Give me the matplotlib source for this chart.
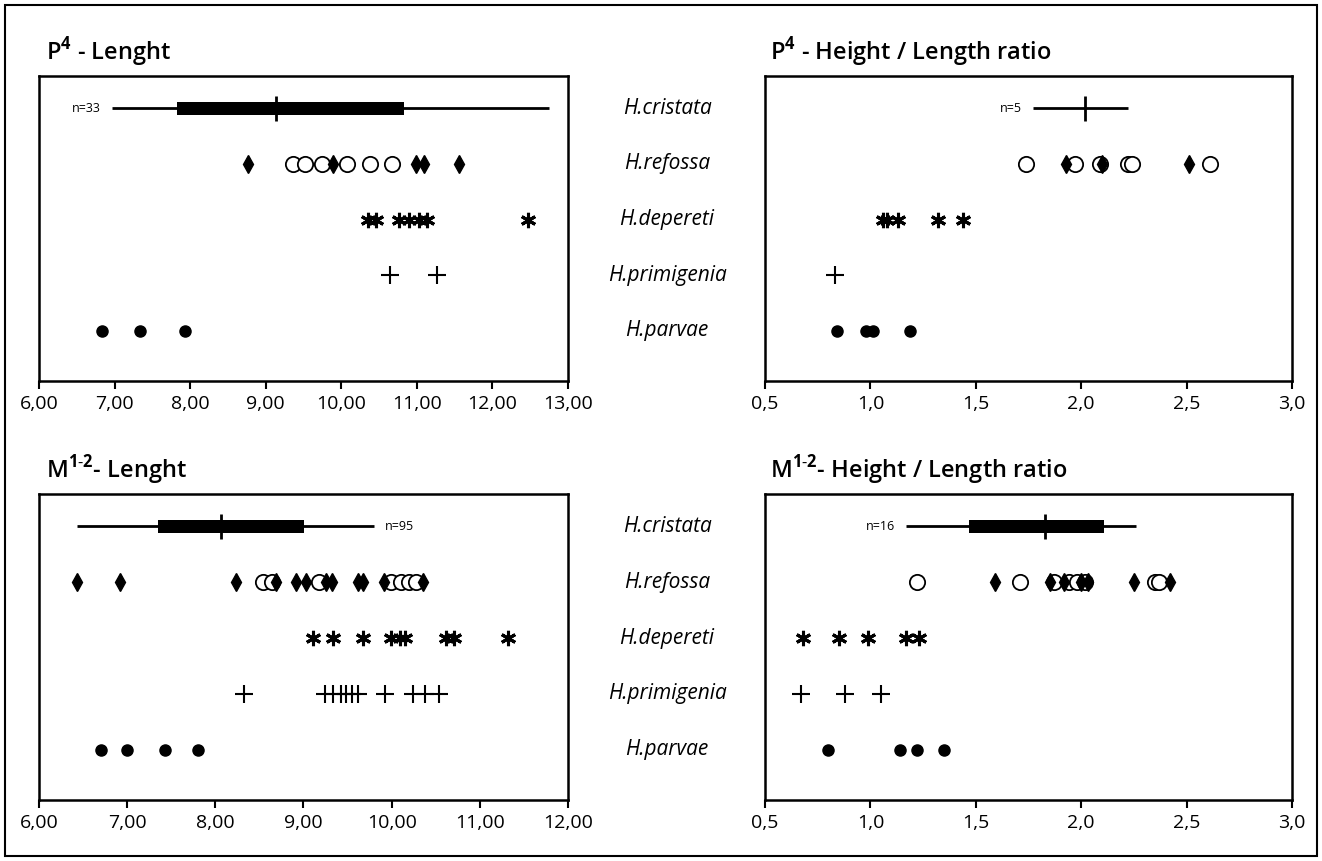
import matplotlib
matplotlib.use("Agg")
import matplotlib.pyplot as plt
import matplotlib.transforms as mtransforms
from matplotlib.patches import Rectangle

plt.rcParams['font.family'] = ['Open Sans', 'DejaVu Sans']
plt.rcParams['mathtext.fontset'] = 'custom'
plt.rcParams['mathtext.rm'] = 'Open Sans'
plt.rcParams['mathtext.bf'] = 'Open Sans:bold'

species = ["H.cristata", "H.refossa", "H.depereti", "H.primigenia", "H.parvae"]

# ---- P4 length ----
p4_len_box = dict(lo=6.97, q1=7.82, med=9.13, q3=10.83, hi=12.75, n="n=33")
p4_len_refossa_circ = [9.36, 9.52, 9.75, 10.08, 10.38, 10.67]
p4_len_refossa_diam = [8.77, 9.89, 10.99, 11.09, 11.56]
p4_len_depereti = [10.35, 10.46, 10.76, 10.89, 11.03, 11.14, 12.47]
p4_len_primigenia = [10.64, 11.26]
p4_len_parvae = [6.84, 7.34, 7.93]

# ---- P4 height / length ----
p4_hl_box = dict(lo=1.77, q1=None, med=2.02, q3=None, hi=2.22, n="n=5")
p4_hl_refossa_circ = [1.74, 1.97, 2.09, 2.22, 2.24, 2.61]
p4_hl_refossa_diam = [1.93, 2.10, 2.51]
p4_hl_depereti = [1.06, 1.08, 1.13, 1.32, 1.44]
p4_hl_primigenia = [0.83]
p4_hl_parvae = [0.84, 0.98, 1.01, 1.19]

# ---- M1-2 length ----
m_len_box = dict(lo=6.43, q1=7.35, med=8.06, q3=9.01, hi=9.80, n="n=95")
m_len_refossa_circ = [8.54, 8.64, 9.18, 9.99, 10.11, 10.20, 10.28]
m_len_refossa_diam = [6.43, 6.92, 8.24, 8.69, 8.91, 9.03, 9.25, 9.32, 9.62, 9.68, 9.91, 10.36]
m_len_depereti = [9.11, 9.34, 9.68, 9.99, 10.09, 10.15, 10.62, 10.71, 11.32]
m_len_primigenia = [8.32, 9.24, 9.34, 9.42, 9.48, 9.55, 9.62, 9.93, 10.24, 10.38, 10.54]
m_len_parvae = [6.70, 7.00, 7.43, 7.80]

# ---- M1-2 height / length ----
m_hl_box = dict(lo=1.17, q1=1.47, med=1.83, q3=2.11, hi=2.26, n="n=16")
m_hl_refossa_circ = [1.22, 1.71, 1.87, 1.94, 1.98, 2.02, 2.35, 2.37]
m_hl_refossa_diam = [1.59, 1.85, 1.92, 2.00, 2.03, 2.25, 2.42]
m_hl_depereti = [0.68, 0.85, 0.99, 1.17, 1.23]
m_hl_primigenia = [0.67, 0.88, 1.05]
m_hl_parvae = [0.80, 1.14, 1.22, 1.35]

len_ticks_top = [6, 7, 8, 9, 10, 11, 12, 13]
len_ticks_bot = [6, 7, 8, 9, 10, 11, 12]
ratio_ticks = [0.5, 1.0, 1.5, 2.0, 2.5, 3.0]


def draw_panel(ax, box, circ, diam, dep, prim, parv, ticks, labels, nside):
    y = [1, 2, 3, 4, 5]
    # cristata summary line
    ax.hlines(y[0], box["lo"], box["hi"], color='black', lw=2)
    if box["q1"] is not None:
        ax.barh(y[0], box["q3"] - box["q1"], left=box["q1"], height=0.24,
                color='black')
    ax.vlines(box["med"], y[0] - 0.22, y[0] + 0.22, color='black', lw=2)
    if nside == 'left':
        ax.annotate(box["n"], (box["lo"], y[0]), xytext=(-8, 0),
                    textcoords='offset points', ha='right', va='center',
                    fontsize=9)
    else:
        ax.annotate(box["n"], (box["hi"], y[0]), xytext=(8, 0),
                    textcoords='offset points', ha='left', va='center',
                    fontsize=9)
    ax.plot(circ, [y[1]] * len(circ), 'o', ms=11, mfc='white', mec='black',
            mew=1.3, ls='none')
    ax.plot(diam, [y[1]] * len(diam), 'd', ms=9, color='black', ls='none')
    ax.plot(dep, [y[2]] * len(dep), marker=(6, 2, 0), ms=11, mec='black',
            mew=2.2, ls='none')
    ax.plot(prim, [y[3]] * len(prim), '+', ms=13, mec='black', mew=1.5,
            ls='none')
    ax.plot(parv, [y[4]] * len(parv), 'o', ms=8, color='black', ls='none')

    ax.set_ylim(5.9, 0.42)
    ax.set_xlim(ticks[0], ticks[-1])
    ax.set_yticks([])
    ax.set_xticks(ticks)
    ax.set_xticklabels(labels, fontsize=14)
    ax.tick_params(axis='x', direction='out', length=6, width=1.5, pad=4)
    for s in ax.spines.values():
        s.set_linewidth(1.8)


fig = plt.figure(figsize=(13.22, 8.61), dpi=100)
W, H = 1322.0, 861.0


def place(l, t, r, b):
    return fig.add_axes([l / W, 1 - b / H, (r - l) / W, (b - t) / H])


ax1 = place(39, 76, 568, 381)
ax2 = place(765, 76, 1292, 381)
ax3 = place(39, 494, 568, 800)
ax4 = place(765, 494, 1292, 800)

fmt2 = lambda v: f"{v:.2f}".replace('.', ',')
fmt1 = lambda v: f"{v:.1f}".replace('.', ',')

draw_panel(ax1, p4_len_box, p4_len_refossa_circ, p4_len_refossa_diam,
           p4_len_depereti, p4_len_primigenia, p4_len_parvae,
           len_ticks_top, [fmt2(t) for t in len_ticks_top], 'left')
draw_panel(ax2, p4_hl_box, p4_hl_refossa_circ, p4_hl_refossa_diam,
           p4_hl_depereti, p4_hl_primigenia, p4_hl_parvae,
           ratio_ticks, [fmt1(t) for t in ratio_ticks], 'left')
draw_panel(ax3, m_len_box, m_len_refossa_circ, m_len_refossa_diam,
           m_len_depereti, m_len_primigenia, m_len_parvae,
           len_ticks_bot, [fmt2(t) for t in len_ticks_bot], 'right')
draw_panel(ax4, m_hl_box, m_hl_refossa_circ, m_hl_refossa_diam,
           m_hl_depereti, m_hl_primigenia, m_hl_parvae,
           ratio_ticks, [fmt1(t) for t in ratio_ticks], 'left')

# titles
title_kw = dict(fontsize=17, fontweight='semibold', ha='left', va='baseline')
fig.text(46 / W, 1 - 60 / H, r"P$^{\mathbf{4}}$ - Lenght", **title_kw)
fig.text(770 / W, 1 - 60 / H, r"P$^{\mathbf{4}}$ - Height / Length ratio", **title_kw)
fig.text(46 / W, 1 - 478 / H, r"M$^{\mathbf{1\text{-}2}}$- Lenght", **title_kw)
fig.text(770 / W, 1 - 478 / H, r"M$^{\mathbf{1\text{-}2}}$- Height / Length ratio", **title_kw)

# species labels between the panels
for ax in (ax2, ax4):
    tr = mtransforms.blended_transform_factory(fig.transFigure, ax.transData)
    for i, name in enumerate(species):
        ax.text(667 / W, i + 1, name, transform=tr, ha='center', va='center',
                fontsize=15, style='italic', clip_on=False)

# outer frame
fig.patches.append(Rectangle((5 / W, 5 / H), 1312 / W, 851 / H,
                             transform=fig.transFigure, fill=False,
                             edgecolor='black', lw=1.5))

fig.savefig("out.png", dpi=100)
